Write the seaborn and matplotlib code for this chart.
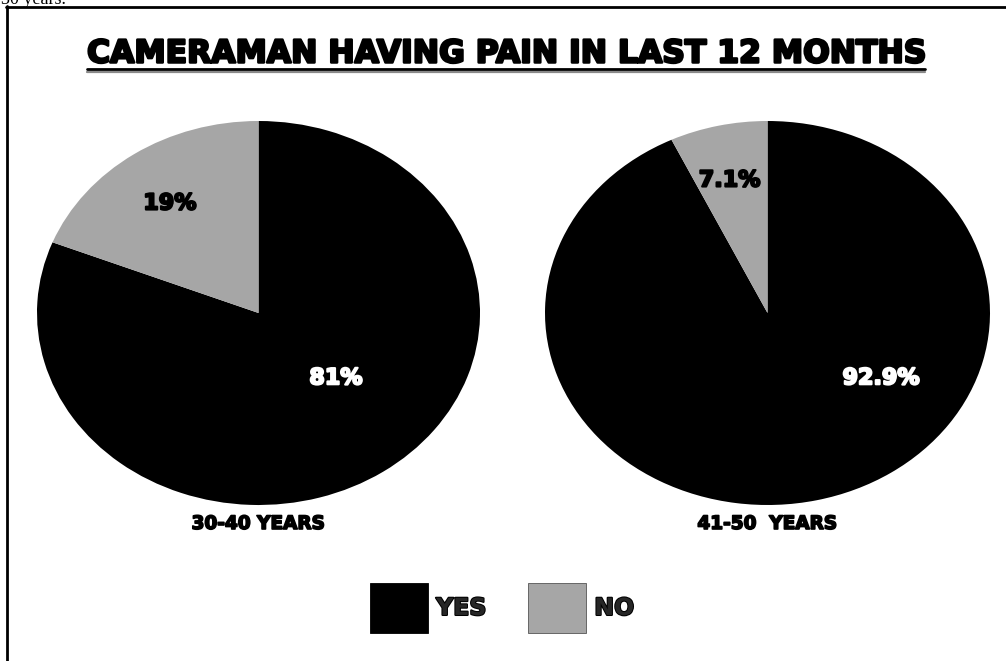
import matplotlib
matplotlib.use("Agg")
import matplotlib.pyplot as plt
import matplotlib.patheffects as pe
import seaborn as sns
from matplotlib.patches import Patch
from matplotlib.lines import Line2D

# ---- data ----
groups = ["30-40 YEARS", "41-50  YEARS"]
answers = ["YES", "NO"]
yes_pct = [81, 92.9]
no_pct = [19, 7.1]
title = "CAMERAMAN HAVING PAIN IN LAST 12 MONTHS"
note = "30 years."

# ---- style ----
sns.set_theme(style="white")
plt.rcParams["font.family"] = ["DejaVu Sans"]
colors = ["#000000", "#a6a6a6"]
label_colors = ["white", "black"]


def heavy(color, w=1.3):
    # thicken bold glyphs into a black-weight look
    return [pe.withStroke(linewidth=w, foreground=color)]


W, H = 1006, 661
fig = plt.figure(figsize=(W / 100, H / 100), dpi=100)
fig.patch.set_facecolor("white")


def fx(px):
    return px / W


def fy(py):
    return 1 - py / H


# pixel boxes (left, top, right, bottom) of the two elliptical pies
pie_boxes = [(37, 121, 480, 505), (545, 121, 990, 505)]
# where the percentage labels sit inside each unit pie (yes, no)
label_pos = [[(0.35, -0.34), (-0.40, 0.57)], [(0.51, -0.34), (-0.17, 0.69)]]
group_label_y = 524

for i, grp in enumerate(groups):
    x0, y0, x1, y1 = pie_boxes[i]
    ax = fig.add_axes([fx(x0), fy(y1), (x1 - x0) / W, (y1 - y0) / H])
    vals = [yes_pct[i], no_pct[i]]
    ax.pie(vals, colors=colors, startangle=90, counterclock=False, radius=1,
           wedgeprops=dict(linewidth=0))
    ax.set_aspect("auto")
    ax.set_xlim(-1, 1)
    ax.set_ylim(-1, 1)
    ax.axis("off")
    for v, (tx, ty), c in zip(vals, label_pos[i], label_colors):
        ax.text(tx, ty, f"{v:g}%", ha="center", va="center", color=c,
                fontsize=16, fontweight="bold", path_effects=heavy(c, 1.5))
    fig.text(fx((x0 + x1) / 2), fy(group_label_y), grp, ha="center", va="center",
             fontsize=13.3, fontweight="bold", color="black",
             path_effects=heavy("black", 1.2))

# title with a heavy underline, sized to span its full width
t = fig.text(fx(506), fy(54), title, ha="center", va="center",
             fontsize=20, fontweight="bold", color="black",
             path_effects=heavy("black", 1.8))
fig.canvas.draw()
bb = t.get_window_extent()
t.set_fontsize(20 * 837 / bb.width)
fig.canvas.draw()
bb = t.get_window_extent()
ux0, ux1 = bb.x0 / W, bb.x1 / W
fig.add_artist(Line2D([ux0, ux1], [fy(71.5), fy(71.5)], color="#8a8a8a", lw=1.6))
fig.add_artist(Line2D([ux0, ux1], [fy(69), fy(69)], color="black", lw=2.0))

# legend
handles = [Patch(facecolor=c, edgecolor="#555555" if c != "#000000" else "black",
                 linewidth=0.6, label=a) for c, a in zip(colors, answers)]
leg = fig.legend(handles=handles, loc="center", bbox_to_anchor=(fx(502), fy(608)), ncol=2,
                 frameon=False, prop=dict(size=17, weight="bold"), handlelength=2.46,
                 handleheight=2.88, handletextpad=0.35, columnspacing=1.75)
for txt in leg.get_texts():
    txt.set_path_effects(heavy("black", 1.5))

# frame lines and clipped caption at the very top
fig.add_artist(Line2D([fx(6), 1], [fy(7), fy(7)], color="black", lw=2.0))
fig.add_artist(Line2D([fx(7), fx(7)], [fy(6), 0], color="black", lw=2.0))
fig.text(fx(1), fy(4), note, ha="left", va="baseline", fontsize=13,
         family=["Liberation Serif", "DejaVu Serif"], color="black")

fig.savefig("out.png", dpi=100, facecolor="white")
